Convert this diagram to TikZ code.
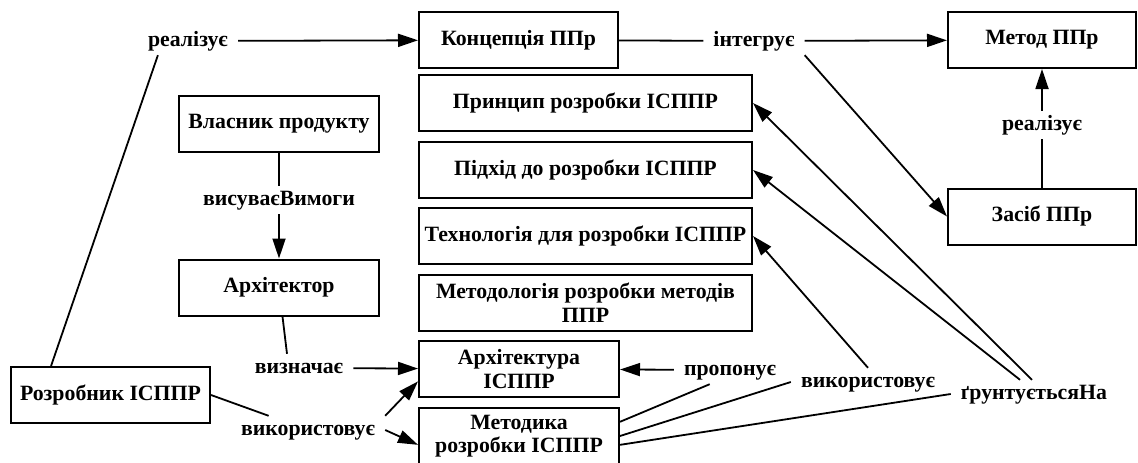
\documentclass[tikz,border=0pt]{standalone}
\usepackage{fontspec}
\setmainfont{Liberation Serif}
\usetikzlibrary{arrows.meta}
\tikzset{
  box/.style={draw, line width=2pt, align=center, minimum height=56pt, inner sep=2pt,
    font=\fontsize{21.8}{23.5}\selectfont\bfseries},
  lbl/.style={inner xsep=10pt, inner ysep=4pt, text height=15pt, text depth=5pt,
    font=\fontsize{21.8}{23.5}\selectfont\bfseries},
  con/.style={line width=1.8pt},
  arr/.style={con, -{Triangle[length=20pt,width=13pt]}}
}
\begin{document}
\begin{tikzpicture}[x=1pt, y=-1pt]
    \useasboundingbox (0,0) rectangle (1138,463);

    \node[box, minimum width=199pt] (concept) at (518.5,40) {Концепція ППр};
    \node[box, minimum width=333pt] (principle) at (585.5,103) {Принцип розробки ІСППР};
    \node[box, minimum width=333pt] (approach) at (585.5,170) {Підхід до розробки ІСППР};
    \node[box, minimum width=333pt] (technology) at (585.5,236) {Технологія для розробки ІСППР};
    \node[box, minimum width=333pt] (methodology) at (585.5,302.5) {Методологія розробки методів\\ППР};
    \node[box, minimum width=200pt] (architecture) at (519,369) {Архітектура\\ІСППР};
    \node[box, minimum width=200pt] (technique) at (519,436) {Методика\\розробки ІСППР};
    \node[box, minimum width=188pt] (method) at (1042,40) {Метод ППр};
    \node[box, minimum width=188pt] (tool) at (1042,216.5) {Засіб ППр};
    \node[box, minimum width=200pt] (owner) at (279,123.5) {Власник продукту};
    \node[box, minimum width=200pt] (architect) at (279,287.5) {Архітектор};
    \node[box, minimum width=199pt] (developer) at (110.5,395) {Розробник ІСППР};

    \node[lbl] (realizes1) at (188,41) {реалізує};
    \node[lbl] (integrates) at (754,41) {інтегрує};
    \node[lbl] (realizes2) at (1042,125) {реалізує};
    \node[lbl] (setsReq) at (279,200) {висуваєВимоги};
    \node[lbl] (defines) at (299,368) {визначає};
    \node[lbl] (uses1) at (308,430) {використовує};
    \node[lbl] (proposes) at (730,370) {пропонує};
    \node[lbl] (uses2) at (868,382) {використовує};
    \node[lbl] (basedOn) at (1034,394) {ґрунтуєтьсяНа};

    \draw[con] (developer.154) -- ([xshift=20pt]realizes1.south west);
    \draw[arr] (realizes1) -- (concept);
    \draw[con] (concept) -- (integrates);
    \draw[arr] (integrates) -- (method);
    \draw[arr] (integrates.south east) -- (tool.west);
    \draw[con] (tool) -- (realizes2);
    \draw[arr] (realizes2) -- (method);
    \draw[con] (owner) -- (setsReq);
    \draw[arr] (setsReq) -- (architect);
    \draw[con] (architect) -- ([xshift=-12pt]defines.north);
    \draw[arr] (defines) -- (architecture);
    \draw[con] (developer.east) -- (uses1);
    \draw[arr] (uses1.north east) -- (architecture.-173);
    \draw[arr] (uses1.east) -- (technique.-175);
    \draw[arr] (proposes) -- (architecture);
    \draw[con] (technique.8) -- (proposes.-145);
    \draw[con] (technique.east) -- (uses2.west);
    \draw[arr] (uses2.north) -- (technology.east);
    \draw[con] (technique.-5) -- (basedOn.west);
    \draw[arr] ([xshift=-2pt]basedOn.north) -- (principle.east);
    \draw[arr] ([xshift=-14pt]basedOn.north) -- (approach.east);
\end{tikzpicture}
\end{document}
